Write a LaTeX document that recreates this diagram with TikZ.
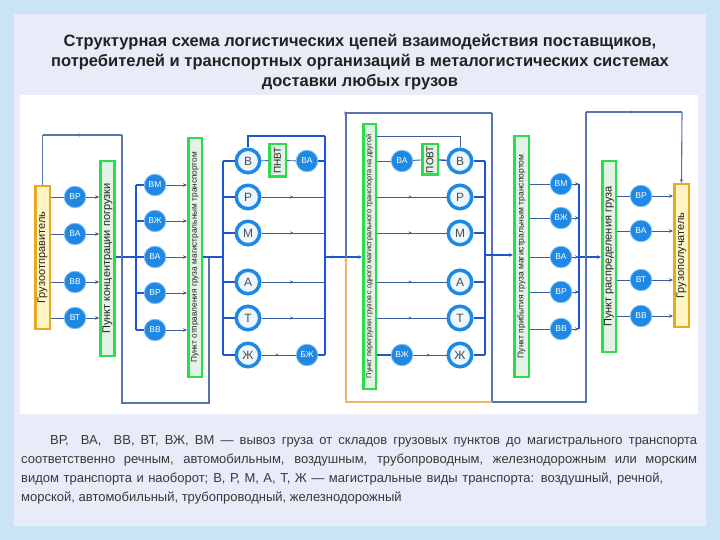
\documentclass[tikz,border=0pt]{standalone}
\usepackage{fontspec}
\setmainfont{Liberation Sans}
\usetikzlibrary{arrows.meta,decorations.markings}
\definecolor{lineblue}{HTML}{3A5E9C}
\definecolor{busblue}{HTML}{1F55CF}
\definecolor{circblue}{HTML}{1E88E5}
\definecolor{gbord}{HTML}{2CDD4A}
\definecolor{gfill}{HTML}{E2F2E4}
\definecolor{obord}{HTML}{E9A820}
\definecolor{ofill}{HTML}{FFF5C4}
\definecolor{orl}{HTML}{F0B46A}
\definecolor{panel}{HTML}{E8ECF8}
\definecolor{outerbg}{HTML}{CBE4F6}
\definecolor{txt}{HTML}{222222}
\begin{document}
\begin{tikzpicture}[x=1pt,y=-1pt,
  scirc/.style={circle, fill=circblue, draw=circblue!55, line width=0.8pt, minimum size=21.5pt, inner sep=0pt, text=white, font=\fontsize{8.5}{9}\selectfont},
  bcirc/.style={circle, fill=circblue!8, draw=circblue, line width=3.5pt, minimum size=23.5pt, inner sep=0pt, text=txt!80, font=\fontsize{12}{12}\selectfont},
  gbox/.style={rectangle, draw=gbord, line width=2.5pt, fill=gfill, inner sep=0pt},
  obox/.style={rectangle, draw=obord, line width=2.5pt, fill=ofill, inner sep=0pt},
  vtext/.style={rotate=90, inner sep=0pt, text=txt},
  conn/.style={draw=lineblue, line width=0.9pt},
  bus/.style={draw=busblue, line width=1.4pt},
  byp/.style={draw=lineblue!85, line width=1.1pt},
  orpath/.style={draw=orl, line width=1.2pt},
  arr/.style={-{Stealth[length=4pt,width=3.5pt]}},
  midarr/.style={postaction={decorate}, decoration={markings, mark=at position 0.5 with {\arrow{Stealth[length=3pt,width=3pt]}}}}
]
% background
\fill[outerbg] (0,0) rectangle (720,540);
\fill[panel] (14,14) rectangle (706,526);
\fill[white] (20,95) rectangle (698,414);

% title
\node[font=\bfseries\fontsize{16.5}{20}\selectfont, align=center, text=txt] (title) at (360,62)
  {Структурная схема логистических цепей взаимодействия поставщиков,\\
   потребителей и транспортных организаций в металогистических системах\\
   доставки любых грузов};

% ---------- nodes ----------
\node[obox, minimum width=14.5pt, minimum height=142.5pt] (oL) at (42.5,257.5) {};
\node[vtext, font=\fontsize{11}{11}\selectfont] (oLt) at (oL) {Грузоотправитель};

\node[scirc] (l1) at (75,197) {ВР};
\node[scirc] (l2) at (75,234) {ВА};
\node[scirc] (l3) at (75,282) {ВВ};
\node[scirc] (l4) at (75,318) {ВТ};

\node[gbox, minimum width=14pt, minimum height=194.5pt] (b2) at (107.5,258.5) {};
\node[vtext, font=\fontsize{11}{11}\selectfont] (b2t) at (b2) {Пункт концентрации погрузки};

\node[scirc] (m1) at (155,185) {ВМ};
\node[scirc] (m2) at (155,221) {ВЖ};
\node[scirc] (m3) at (155,257) {ВА};
\node[scirc] (m4) at (155,293) {ВР};
\node[scirc] (m5) at (155,330) {ВВ};

\node[gbox, minimum width=13.5pt, minimum height=238.5pt] (b3) at (195,257.5) {};
\node[vtext, font=\fontsize{8.3}{9}\selectfont] (b3t) at (b3) {Пункт отправления груза магистральным транспортом};

\node[bcirc] (c1) at (248,161) {В};
\node[bcirc] (c2) at (248,197) {Р};
\node[bcirc] (c3) at (248,233) {М};
\node[bcirc] (c4) at (248,282) {А};
\node[bcirc] (c5) at (248,318) {Т};
\node[bcirc] (c6) at (248,355) {Ж};

\node[gbox, minimum width=16.5pt, minimum height=32.5pt] (pn) at (277.5,160.5) {};
\node[vtext, font=\fontsize{10}{10}\selectfont] (pnt) at (pn) {ПНВТ};
\node[scirc] (s1) at (307,161) {ВА};
\node[scirc] (s2) at (307,355) {БЖ};

\node[gbox, minimum width=12.5pt, minimum height=264.5pt] (cb) at (369.5,256.5) {};
\node[vtext, font=\fontsize{7.3}{8}\selectfont] (cbt) at (cb) {Пункт перегрузки грузов с одного магистрального транспорта на другой};

\node[scirc] (s3) at (402,161) {ВА};
\node[scirc] (s4) at (402,355) {ВЖ};
\node[gbox, minimum width=15.5pt, minimum height=30.5pt] (po) at (430,159.5) {};
\node[vtext, font=\fontsize{10}{10}\selectfont] (pot) at (po) {ПОВТ};

\node[bcirc] (d1) at (460,161) {В};
\node[bcirc] (d2) at (460,197) {Р};
\node[bcirc] (d3) at (460,233) {М};
\node[bcirc] (d4) at (460,282) {А};
\node[bcirc] (d5) at (460,318) {Т};
\node[bcirc] (d6) at (460,355) {Ж};

\node[gbox, minimum width=14.5pt, minimum height=240.5pt] (b5) at (521.5,256.5) {};
\node[vtext, font=\fontsize{8.5}{9}\selectfont] (b5t) at (b5) {Пункт прибытия груза магистральным транспортом};

\node[scirc] (e1) at (561,184) {ВМ};
\node[scirc] (e2) at (561,218) {ВЖ};
\node[scirc] (e3) at (561,257) {ВА};
\node[scirc] (e4) at (561,292) {ВР};
\node[scirc] (e5) at (561,329) {ВВ};

\node[gbox, minimum width=13.5pt, minimum height=190.5pt] (b6) at (609,256.5) {};
\node[vtext, font=\fontsize{11}{11}\selectfont] (b6t) at (b6) {Пункт распределения груза};

\node[scirc] (f1) at (641,196) {ВР};
\node[scirc] (f2) at (641,231) {ВА};
\node[scirc] (f3) at (641,280) {ВТ};
\node[scirc] (f4) at (641,316) {ВВ};

\node[obox, minimum width=14.5pt, minimum height=142.5pt] (oR) at (681.5,255.5) {};
\node[vtext, font=\fontsize{11}{11}\selectfont] (oRt) at (oR) {Грузополучатель};

% ---------- coordinates ----------
\coordinate (k0) at (42.5,135);
\coordinate (k1) at (122,135);
\coordinate (k2) at (122,403);
\coordinate (k3) at (209,403);
\coordinate (k4) at (209,257);
\coordinate (u1) at (136,185);
\coordinate (u2) at (223,161);
\coordinate (t1) at (248,136);
\coordinate (u3) at (325,136);
\coordinate (j1) at (346,257);
\coordinate (r1) at (346,113);
\coordinate (r2) at (492,113);
\coordinate (r3) at (492,402);
\coordinate (r4) at (346,402);
\coordinate (t2) at (460,136);
\coordinate (u4) at (485,161);
\coordinate (j2) at (485,255);
\coordinate (u5) at (579,184);
\coordinate (k5) at (586,402);
\coordinate (k6) at (586,112);
\coordinate (k7) at (682,112);

% ---------- connectors ----------
\foreach \c in {l1,l2,l3,l4}{
  \draw[conn] (oL.east |- \c) -- (\c);
  \draw[conn,arr] (\c) -- (b2.west |- \c);
}
\draw[bus] (b2.east |- m3) -- (u1 |- m3);
\draw[bus] (u1 |- m1) -- (u1 |- m5);
\foreach \c in {m1,m2,m3,m4,m5}{
  \draw[bus] (u1 |- \c) -- (\c);
  \draw[conn,arr] (\c) -- (b3.west |- \c);
}
\draw[byp] (oL.north) -- (k0);
\draw[byp,midarr] (k0) -- (k1);
\draw[byp] (k1) -- (k2) -- (k3) -- (k4);
\draw[bus] (b3.east |- k4) -- (u2 |- k4);
\draw[bus] (u2 |- c1) -- (u2 |- c6);
\foreach \c in {c1,c2,c3,c4,c5,c6}{ \draw[bus] (u2 |- \c) -- (\c); }
\draw[bus] (c1) -- (t1) -- (u3);
\draw[bus] (u3) -- (u3 |- c6);
\draw[conn] (c1) -- (pn);
\draw[conn] (pn) -- (s1);
\draw[bus] (s1) -- (u3 |- s1);
\foreach \c in {c2,c3,c4,c5}{ \draw[conn,midarr] (\c) -- (u3 |- \c); }
\draw[conn,midarr] (c6) -- (s2);
\draw[bus] (s2) -- (u3 |- s2);
\draw[bus,midarr] (u3 |- j1) -- (j1);
\draw[bus,arr] (j1) -- (cb.west |- j1);
\draw[byp,midarr] (j1) -- (r1) -- (r2);
\draw[byp] (r2) -- (r3);
\draw[orpath,arr] (r3) -- (r4) -- (j1);
\draw[conn] (cb.east |- t2) -- (t2) -- (d1);
\draw[conn] (cb.east |- s3) -- (s3);
\draw[conn] (s3) -- (po);
\draw[bus] (po) -- (d1);
\foreach \d in {d2,d3,d4,d5}{ \draw[conn,midarr] (cb.east |- \d) -- (\d); }
\draw[bus] (cb.east |- s4) -- (s4);
\draw[conn,midarr] (s4) -- (d6);
\draw[bus] (u4) -- (u4 |- d6);
\foreach \d in {d1,d2,d3,d4,d5,d6}{ \draw[bus] (\d) -- (u4 |- \d); }
\draw[bus,arr] (j2) -- (b5.west |- j2);
\foreach \e in {e1,e2,e3,e4,e5}{
  \draw[conn] (b5.east |- \e) -- (\e);
  \draw[conn,arr] (\e) -- (u5 |- \e);
}
\draw[bus] (u5) -- (u5 |- e5);
\draw[bus,arr] (u5 |- e3) -- (b6.west |- e3);
\draw[byp] (r3) -- (k5) -- (k6);
\draw[byp,midarr] (k6) -- (k7);
\draw[byp,arr] (k7) -- (oR.north);
\foreach \f in {f1,f2,f3,f4}{
  \draw[conn] (b6.east |- \f) -- (\f);
  \draw[conn,arr] (\f) -- (oR.west |- \f);
}

% ---------- caption ----------
\begin{scope}[every node/.style={anchor=base west, inner sep=0pt, text=txt!90, font=\fontsize{13}{19}\selectfont}]
\node (p1) at (50,444) {\hbox to 647pt{ВР,\ \ ВА,\ \ ВВ, ВТ, ВЖ, ВМ — вывоз груза от складов грузовых пунктов до магистрального транспорта}};
\node (p2) at (21,463) {\hbox to 676pt{соответственно речным, автомобильным, воздушным, трубопроводным, железнодорожным или морским}};
\node (p3) at (21,482) {\hbox to 642pt{видом транспорта и наоборот; В, Р, М, А, Т, Ж — магистральные виды транспорта: воздушный, речной,}};
\node (p4) at (21,501) {морской, автомобильный, трубопроводный, железнодорожный};
\end{scope}
\end{tikzpicture}
\end{document}
